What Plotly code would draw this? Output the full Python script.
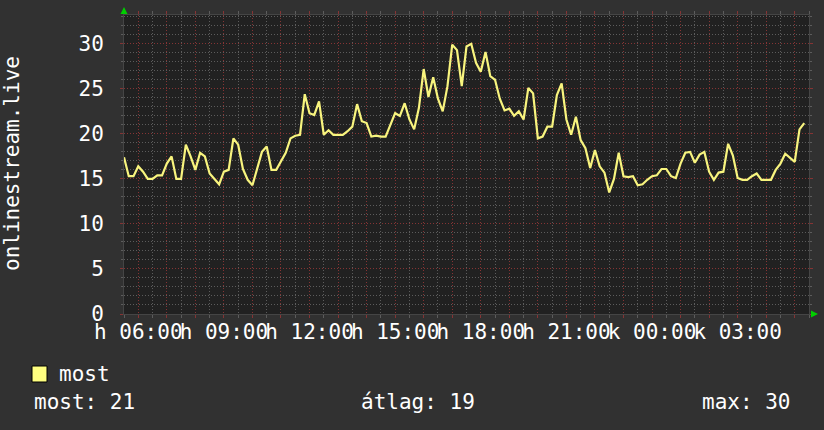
import pandas as pd
import plotly.graph_objects as go

# ---------------- data ----------------
series_name = "most"
y_title = "onlinestream.live"
start_time = "2024-01-15 05:30"   # Monday (h = hétfő), next day Tuesday (k = kedd)
end_time = "2024-01-16 05:30"
step_minutes = 10

values = [
    17.4, 15.3, 15.3, 16.4, 15.8, 15.0, 15.0, 15.4, 15.4, 16.7,
    17.5, 15.0, 15.0, 18.8, 17.5, 16.0, 17.9, 17.5, 15.6, 15.0,
    14.4, 15.8, 16.0, 19.5, 18.8, 16.1, 14.9, 14.3, 16.1, 18.0,
    18.6, 16.0, 16.0, 16.9, 17.9, 19.5, 19.8, 19.9, 24.4, 22.3,
    22.1, 23.6, 19.9, 20.4, 19.9, 19.9, 19.9, 20.3, 20.8, 23.3,
    21.4, 21.2, 19.7, 19.8, 19.7, 19.7, 21.0, 22.3, 22.0, 23.4,
    21.6, 20.5, 22.9, 27.2, 24.1, 26.3, 23.9, 22.5, 25.3, 29.9,
    29.3, 25.3, 29.7, 30.0, 27.9, 26.9, 29.1, 26.4, 26.0, 23.9,
    22.6, 22.8, 22.0, 22.5, 21.6, 25.1, 24.5, 19.5, 19.7, 20.8,
    20.8, 24.3, 25.6, 21.6, 19.9, 21.9, 19.3, 18.4, 16.2, 18.2,
    16.4, 15.7, 13.5, 15.0, 17.9, 15.3, 15.2, 15.3, 14.3, 14.4,
    14.9, 15.3, 15.4, 16.1, 16.1, 15.3, 15.1, 16.7, 17.9, 18.0,
    16.8, 17.7, 18.0, 15.8, 14.9, 15.7, 15.8, 18.9, 17.6, 15.1,
    14.9, 14.9, 15.3, 15.6, 14.9, 14.9, 14.9, 16.0, 16.7, 17.8,
    17.3, 16.9, 20.5, 21.2,
]

label_times = ["2024-01-15 06:00", "2024-01-15 09:00", "2024-01-15 12:00",
               "2024-01-15 15:00", "2024-01-15 18:00", "2024-01-15 21:00",
               "2024-01-16 00:00", "2024-01-16 03:00"]
label_texts = ["h 06:00", "h 09:00", "h 12:00", "h 15:00",
               "h 18:00", "h 21:00", "k 00:00", "k 03:00"]

stat_names = ["most", "átlag", "max"]
stat_values = [21, 19, 30]

y_max = 33.2

# ---------------- figure ----------------
W, H = 824, 430
PL, PR, PT, PB = 124, 809, 15, 314   # plot area in pixels

def px(x):
    return (x - PL) / (PR - PL)

def py(y):
    return (PB - y) / (PB - PT)

times = pd.date_range(start=start_time, periods=len(values), freq=f"{step_minutes}min")

hour_ticks = pd.date_range("2024-01-15 06:00", "2024-01-16 05:00", freq="1h")
lab_map = {pd.Timestamp(t): s for t, s in zip(label_times, label_texts)}
tick_text = [lab_map.get(t, "") for t in hour_ticks]

FONT = "DejaVu Sans Mono"
FS = 21
TXT = "#ffffff"
RED = "#853434"
GRAY = "#5c5c5c"

fig = go.Figure()
fig.add_trace(go.Scatter(
    x=times, y=values, mode="lines", name=series_name,
    line=dict(color="#f8f47e", width=2.2),
    hoverinfo="skip", showlegend=False,
))

fig.update_layout(
    width=W, height=H, autosize=False,
    margin=dict(l=PL, r=W - PR, t=PT, b=H - PB, pad=0),
    paper_bgcolor="#313131",
    plot_bgcolor="#212121",
    font=dict(family=FONT, size=FS, color=TXT),
    showlegend=False,
)

fig.update_xaxes(
    type="date",
    range=[start_time, end_time],
    tickvals=list(hour_ticks), ticktext=tick_text,
    tickangle=0,
    tickfont=dict(family=FONT, size=FS, color=TXT),
    ticklabelstandoff=-4,
    showgrid=True, gridcolor=RED, griddash="1px,2px", gridwidth=1,
    ticks="outside", ticklen=3, tickcolor=RED, tickwidth=1,
    minor=dict(dtick=30 * 60 * 1000, tick0=start_time, showgrid=True,
               gridcolor=GRAY, griddash="1px,2px", gridwidth=1,
               ticks="outside", ticklen=3, tickcolor=GRAY),
    showline=True, linecolor="#454545", linewidth=1, mirror="ticks",
    zeroline=False, automargin=False, fixedrange=True,
)

fig.update_yaxes(
    range=[0, y_max],
    tick0=0, dtick=5,
    tickfont=dict(family=FONT, size=FS, color=TXT),
    showgrid=True, gridcolor=RED, griddash="1px,2px", gridwidth=1,
    ticks="outside", ticklen=3, tickcolor=RED, tickwidth=1,
    ticklabelstandoff=12,
    minor=dict(dtick=1, showgrid=True, gridcolor=GRAY, griddash="1px,2px",
               gridwidth=1, ticks="outside", ticklen=2, tickcolor=GRAY),
    showline=True, linecolor="#454545", linewidth=1, mirror="ticks",
    zeroline=False, automargin=False, fixedrange=True,
)

annotations = [
    dict(text=y_title, textangle=-90, xref="paper", yref="paper",
         x=px(12), y=py(164), xanchor="center", yanchor="middle",
         showarrow=False, font=dict(family=FONT, size=FS, color=TXT)),
    dict(text=series_name, xref="paper", yref="paper",
         x=px(57), y=py(374), xanchor="left", yanchor="middle",
         showarrow=False, font=dict(family=FONT, size=FS, color=TXT)),
]
stat_pos = [(32, "left"), (359, "left"), (793, "right")]
for (name, val), (sx, anc) in zip(zip(stat_names, stat_values), stat_pos):
    annotations.append(dict(
        text=f"{name}: {val}", xref="paper", yref="paper",
        x=px(sx), y=py(402), xanchor=anc, yanchor="middle",
        showarrow=False, font=dict(family=FONT, size=FS, color=TXT)))
fig.update_layout(annotations=annotations)

def tri(points):
    p = [f"{px(a):.5f},{py(b):.5f}" for a, b in points]
    return "M " + " L ".join(p) + " Z"

shapes = [
    dict(type="rect", xref="paper", yref="paper",
         x0=px(32), x1=px(47), y0=py(382), y1=py(366),
         fillcolor="#ffff80", line=dict(color="#000000", width=1)),
    dict(type="path", xref="paper", yref="paper",
         path=tri([(120.5, 14), (127.5, 14), (124, 7)]),
         fillcolor="#00d000", line=dict(color="#00d000", width=0)),
    dict(type="path", xref="paper", yref="paper",
         path=tri([(811, 310.5), (811, 317.5), (818, 314)]),
         fillcolor="#00d000", line=dict(color="#00d000", width=0)),
]
fig.update_layout(shapes=shapes)

fig.write_html(
    "out.html",
    config={"displayModeBar": False, "staticPlot": True},
    post_script="document.body.style.margin='0';document.body.style.background='#313131';",
)
